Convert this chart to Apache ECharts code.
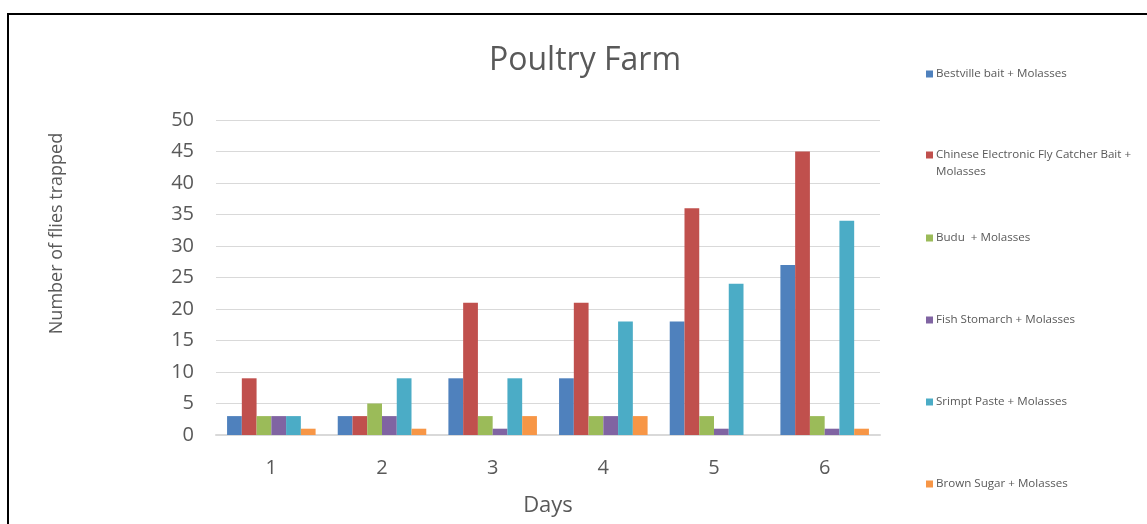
<!DOCTYPE html>
<html>
<head>
<meta charset="utf-8">
<script src="https://cdn.jsdelivr.net/npm/echarts@6/dist/echarts.min.js"></script>
<style>
html,body{margin:0;padding:0;background:#fff;}
#chart{width:1147px;height:524px;}
</style>
</head>
<body>
<div id="chart"></div>
<script>
const categories = ['1', '2', '3', '4', '5', '6'];
const seriesNames = [
  'Bestville bait + Molasses',
  'Chinese Electronic Fly Catcher Bait + Molasses',
  'Budu  + Molasses',
  'Fish Stomarch + Molasses',
  'Srimpt Paste + Molasses',
  'Brown Sugar + Molasses'
];
const bestville = [3, 3, 9, 9, 18, 27];
const chinese = [9, 3, 21, 21, 36, 45];
const budu = [3, 5, 3, 3, 3, 3];
const fishStomarch = [3, 3, 1, 3, 1, 1];
const srimptPaste = [3, 9, 9, 18, 24, 34];
const brownSugar = [1, 1, 3, 3, 0, 1];
const yTicks = [0, 5, 10, 15, 20, 25, 30, 35, 40, 45, 50];

const seriesData = [bestville, chinese, budu, fishStomarch, srimptPaste, brownSugar];
const colors = ['#4F81BD', '#C0504D', '#9BBB59', '#8064A2', '#4BACC6', '#F79646'];
const legendTops = [65.5, 129.5, 229.5, 311.5, 393.5, 475.5];

const chart = echarts.init(document.getElementById('chart'), null, {renderer: 'canvas'});
const font = '"Open Sans", "Noto Sans", sans-serif';

const legends = seriesNames.map((n, i) => ({
  data: [n],
  orient: 'vertical',
  left: 926,
  top: legendTops[i],
  padding: 0,
  itemWidth: 7,
  itemHeight: 7,
  itemGap: 0,
  selectedMode: false,
  icon: 'rect',
  textStyle: {
    fontFamily: font, fontSize: 11.6, color: '#595959', lineHeight: 17,
    padding: [0, 0, 0, -2]
  },
  formatter: function (name) {
    if (name.indexOf('Chinese') === 0) return '\nChinese Electronic Fly Catcher Bait +\nMolasses';
    return name;
  }
}));

const option = {
  animation: false,
  color: colors,
  title: {
    text: 'Poultry Farm',
    left: 580,
    textAlign: 'center',
    top: 40,
    textStyle: {fontFamily: font, fontSize: 32, fontWeight: 'normal', color: '#595959'}
  },
  legend: legends,
  grid: {left: 216, right: 267, top: 120, bottom: 89, containLabel: false},
  xAxis: {
    type: 'category',
    data: categories,
    name: 'Days',
    nameLocation: 'middle',
    nameGap: 60,
    nameTextStyle: {fontFamily: font, fontSize: 22, color: '#595959'},
    axisLine: {lineStyle: {color: '#d9d9d9', width: 2}},
    axisTick: {show: false},
    axisLabel: {fontFamily: font, fontSize: 20, color: '#595959', margin: 23}
  },
  yAxis: {
    type: 'value',
    min: yTicks[0],
    max: yTicks[yTicks.length - 1],
    interval: 5,
    name: 'Number of flies trapped',
    nameLocation: 'middle',
    nameRotate: 90,
    nameGap: 150,
    nameTextStyle: {fontFamily: font, fontSize: 18, color: '#595959', padding: [0, 0, 0, 88]},
    axisLine: {show: false},
    axisTick: {show: false},
    splitLine: {lineStyle: {color: '#d9d9d9', width: 1}},
    axisLabel: {fontFamily: font, fontSize: 20, color: '#595959', margin: 22}
  },
  graphic: [{
    type: 'rect',
    shape: {x: 8, y: 14, width: 1160, height: 540},
    style: {fill: 'none', stroke: '#000', lineWidth: 2},
    silent: true
  }],
  series: seriesNames.map((n, i) => ({
    name: n,
    type: 'bar',
    data: seriesData[i],
    barGap: '0%',
    barCategoryGap: '20%',
    itemStyle: {color: colors[i]}
  }))
};
chart.setOption(option);
</script>
</body>
</html>
